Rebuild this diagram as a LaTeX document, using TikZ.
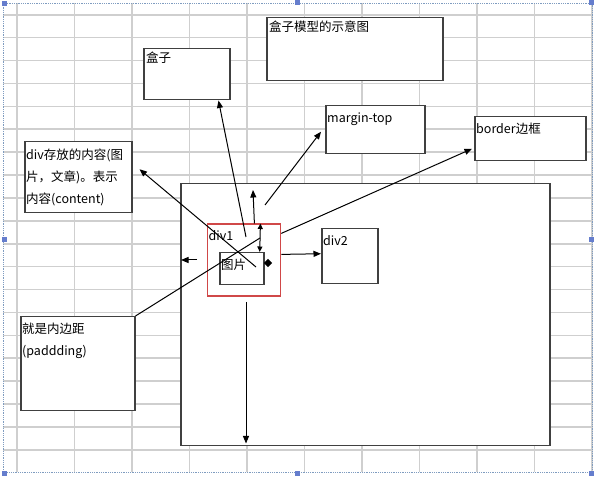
\documentclass[tikz,border=0pt]{standalone}
\usepackage{fontspec}
\setmainfont{Noto Sans CJK SC}
\usepackage{tikz}
\usetikzlibrary{arrows.meta, shapes.geometric}
\definecolor{gridgray}{HTML}{CFCFCF}
\definecolor{framblue}{HTML}{7F9CC0}
\definecolor{boxred}{HTML}{D04848}
\tikzset{
  box/.style={draw=black!75, line width=1.5pt, fill=white, anchor=north west, inner sep=0pt},
  redbox/.style={draw=boxred, line width=1.8pt, fill=white, anchor=north west, inner sep=0pt},
  txt/.style={anchor=north west, inner sep=2pt, align=left, font=\fontsize{12.5}{22}\selectfont},
  arr/.style={-{Triangle[length=7.5pt,width=6pt]}, line width=1pt},
  plain/.style={line width=1pt}
}

\begin{document}
\begin{tikzpicture}[x=1pt, y=-1pt]
\useasboundingbox (0,0) rectangle (595,478);

% spreadsheet grid
\draw[gridgray, line width=1.6pt] \foreach \x in {17, 74.5,...,593}
{
    (\x,3) -- (\x,472)
};
\draw[gridgray, line width=1.6pt] \foreach \y in {14.8, 37.7,...,460}
{
    (3,\y) -- (592,\y)
};
\draw[framblue, densely dotted, line width=0.8pt] (3,3) rectangle (592,472);
\foreach \p in {(4,4), (297,3), (591,3), (4,240), (591,240), (4,474), (297,474), (591,474)}
    \fill[framblue!80!blue] \p +(-2.5,-2.5) rectangle +(2.5,2.5);

% boxes
\node[box, minimum width=369pt, minimum height=262pt] (big) at (180,183) {};
\node[box, minimum width=86pt, minimum height=51pt] (hezi) at (143,48) {};
\node[box, minimum width=176pt, minimum height=63pt] (title) at (266,17) {};
\node[box, minimum width=99pt, minimum height=48pt] (mtop) at (325,105) {};
\node[box, minimum width=111pt, minimum height=44pt] (bd) at (474,116) {};
\node[box, minimum width=107pt, minimum height=71pt] (content) at (24,141) {};
\node[box, minimum width=114pt, minimum height=94pt] (pad) at (20,316) {};
\node[box, minimum width=56pt, minimum height=55pt] (div2) at (321,228) {};
\node[redbox, minimum width=73pt, minimum height=72pt] (div1) at (206.5,223.5) {};
\node[box, minimum width=44pt, minimum height=32pt] (pic) at (219,252) {};

\node[txt] (hezit) at ([shift={(1pt,-2pt)}]hezi.north west) {盒子};
\node[txt] (titlet) at ([shift={(1pt,-2pt)}]title.north west) {盒子模型的示意图};
\node[txt] (mtopt) at ([shift={(0pt,-6pt)}]mtop.north west) {margin-top};
\node[txt] (bdt) at ([shift={(0pt,-5pt)}]bd.north west) {border边框};
\node[txt] (contentt) at ([shift={(0pt,-6pt)}]content.north west) {div存放的内容(图\\片，文章)。表示\\内容(content)};
\node[txt] (padt) at ([shift={(0pt,-5pt)}]pad.north west) {就是内边距\\(paddding)};
\node[txt] (div2t) at ([shift={(0pt,-5pt)}]div2.north west) {div2};
\node[txt] (div1t) at ([shift={(0pt,-5pt)}]div1.north west) {div1};
\node[txt] (pict) at ([shift={(0pt,-5pt)}]pic.north west) {图片};

\node[diamond, fill=black, inner sep=0pt, minimum size=8.5pt] (dm) at (268,263) {};

% connectors
\coordinate (a1) at (246,237);
\coordinate (a2) at (265,205);
\coordinate (a3) at (253,190);
\coordinate (a5) at (256,267);
\coordinate (a6) at (260,238);
\coordinate (a7) at (197,260);
\coordinate (a8) at (181,260);
\coordinate (a9) at (246,302);

\draw[arr] (a1) -- ([xshift=-12pt]hezi.south east);
\draw[arr] (a2) -- ([shift={(-4pt,-2pt)}]mtop.west);
\draw[arr] ([xshift=10.5pt]div1.north) -- (a3);
\draw[{Triangle[length=5.5pt,width=5pt]}-{Triangle[length=5.5pt,width=5pt]}, line width=1pt]
    ([xshift=16.5pt]div1.north) -- ([xshift=18pt]pic.north);
\draw[arr] (a5) -- ([shift={(7pt,8pt)}]content.east);
\draw[plain] (pad.north east) -- (a6);
\draw[arr] ([yshift=27pt]div1.east) -- ([shift={(-2pt,-10pt)}]bd.west);
\draw[arr] (a7) -- (a8);
\draw[arr] ([yshift=6pt]div1.east) -- ([yshift=2.5pt]div2.west);
\draw[arr, shorten >=3pt] (a9) -- (a9 |- big.south);
\end{tikzpicture}
\end{document}
